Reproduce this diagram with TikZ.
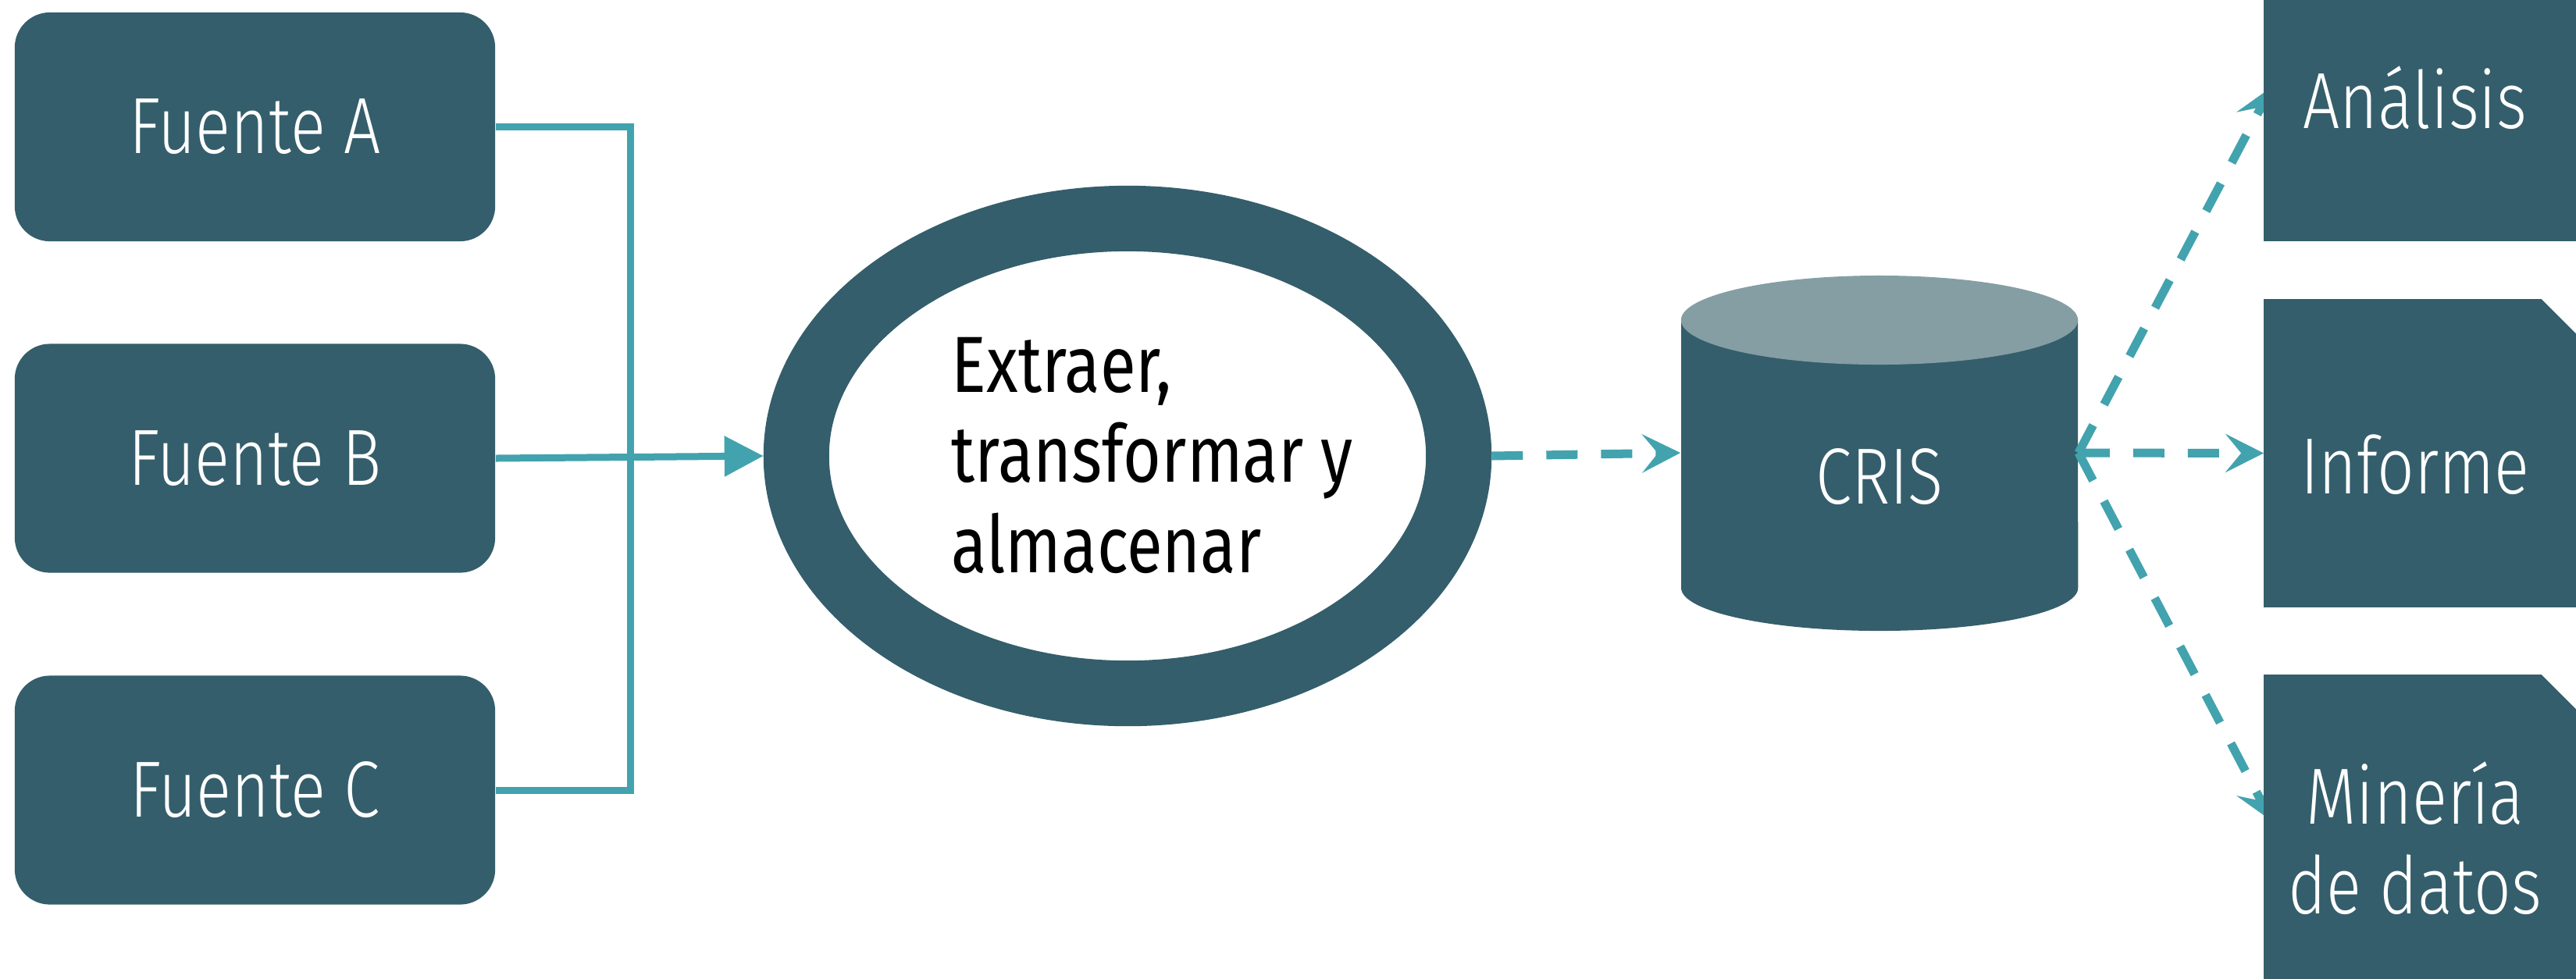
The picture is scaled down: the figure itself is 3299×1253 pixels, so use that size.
\documentclass[tikz,border=0pt]{standalone}
\usepackage{fontspec}
\usetikzlibrary{arrows.meta,shapes.geometric,calc}
\newfontfamily\lightfont{Fira Sans Light}[FakeStretch=0.82]
\newfontfamily\regfont{Fira Sans}[FakeStretch=0.82]
\definecolor{dark}{RGB}{52,94,107}
\definecolor{accent}{RGB}{66,163,174}
\definecolor{cyltop}{RGB}{132,158,164}
\begin{document}
\begin{tikzpicture}[x=0.01cm,y=-0.01cm,
  srcbox/.style={rectangle, rounded corners=0.45cm, fill=dark, minimum width=6.15cm,
    minimum height=2.93cm, inner sep=0, text=white,
    font=\lightfont\fontsize{29}{33}\selectfont},
  outbox/.style={rectangle, minimum width=3.99cm, minimum height=3.93cm, inner sep=0},
  outtext/.style={text=white, font=\lightfont\fontsize{29}{32.7}\selectfont,
    align=center, anchor=base, inner sep=0},
  feed/.style={draw=accent, line width=0.09cm},
  flow/.style={draw=accent, line width=0.11cm, dash pattern=on 0.4cm off 0.3cm,
    -{Stealth[length=0.49cm,width=0.49cm,inset=0.2cm]}},
]
\useasboundingbox (0,0) rectangle (3299,1253);
\clip (0,0) rectangle (3299,1253);

% sources
\node[srcbox] (fa) at (326.5,162.5) {Fuente A};
\node[srcbox] (fb) at (326.5,587) {Fuente B};
\node[srcbox] (fc) at (326.5,1012) {Fuente C};

% ETL ring
\node[ellipse, draw=dark, line width=0.84cm, fill=white, minimum width=8.48cm,
  minimum height=6.08cm, inner sep=0] (etl) at (1444,584) {};
\node[anchor=base west, align=left, font=\regfont\fontsize{29}{32.8}\selectfont,
  text=black, inner sep=0] (etltext) at (1218,733) {Extraer,\\transformar y\\almacenar};

% CRIS cylinder
\fill[dark] (2153,410) -- (2153,753)
  arc[start angle=180, end angle=360, x radius=2.54cm, y radius=0.55cm]
  -- (2661,410) -- cycle;
\fill[cyltop] (2407,410) ellipse [x radius=2.54cm, y radius=0.57cm];
\node[rectangle, minimum width=5.08cm, minimum height=3.4cm, inner sep=0] (cris) at (2407,580) {};
\node[text=white, font=\lightfont\fontsize{29}{33}\selectfont, anchor=base, inner sep=0]
  (crislabel) at (2407,645) {CRIS};

% output boxes (anchors)
\node[outbox] (ana) at (3099.5,111.5) {};
\node[outbox] (inf) at (3099.5,580.5) {};
\node[outbox] (min) at (3099.5,1061.5) {};

% connectors
\coordinate (hub) at (807,587);
\draw[feed] (fa.east) -| (hub) |- (fc.east);
\draw[feed, -{Triangle[length=0.5cm,width=0.5cm]}] (fb.east) -- (etl.west);
\draw[flow] (etl.east) -- (cris.west);
\draw[flow] (cris.east) -- ([xshift=0.1cm]ana.west);
\draw[flow] (cris.east) -- (inf.west);
\draw[flow] (cris.east) -- ([xshift=0.1cm,yshift=0.1cm]min.west);

% output boxes (fill, drawn over arrow tips)
\foreach \n in {ana,inf,min}
  \fill[dark] (\n.south west) -- (\n.north west) -- ([xshift=-0.45cm]\n.north east)
    -- ([yshift=-0.45cm]\n.north east) -- (\n.south east) -- cycle;

\node[outtext] (anat) at (3093,164) {Análisis};
\node[outtext] (inft) at (3093,632) {Informe};
\node[outtext] (mint) at (3093,1170) {Minería\\de datos};
\end{tikzpicture}
\end{document}
